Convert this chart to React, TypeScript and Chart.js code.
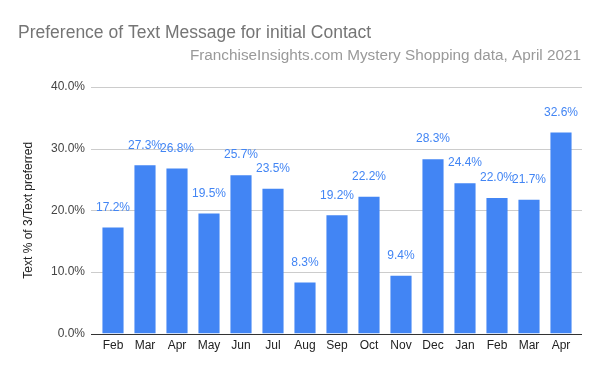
import React, { useEffect, useRef } from "react";
import { Chart, registerables } from "chart.js";

Chart.register(...registerables);

const categories = ["Feb", "Mar", "Apr", "May", "Jun", "Jul", "Aug", "Sep", "Oct", "Nov", "Dec", "Jan", "Feb", "Mar", "Apr"];
const textPreferred = [17.2, 27.3, 26.8, 19.5, 25.7, 23.5, 8.3, 19.2, 22.2, 9.4, 28.3, 24.4, 22.0, 21.7, 32.6];
const yTicks = [0, 10, 20, 30, 40];
const titleText = "Preference of Text Message for initial Contact";
const subtitleText = "FranchiseInsights.com Mystery Shopping data, April 2021";
const yAxisTitle = "Text % of 3/Text preferred";

const FONT = "Arial, 'Liberation Sans', sans-serif";
const BAR = "#4285F4";

const extrasPlugin = {
  id: "extras",
  beforeDatasetsDraw(chart: any) {
    const { ctx, chartArea, scales } = chart;
    const y = scales.y;
    ctx.save();
    ctx.strokeStyle = "#cccccc";
    ctx.lineWidth = 1;
    yTicks.forEach((t) => {
      if (t === 0) return;
      const py = Math.round(y.getPixelForValue(t)) + 0.5;
      ctx.beginPath();
      ctx.moveTo(chartArea.left - 6, py);
      ctx.lineTo(chartArea.right + 5, py);
      ctx.stroke();
    });
    ctx.restore();
  },
  afterDatasetsDraw(chart: any) {
    const { ctx, chartArea, scales } = chart;
    const y = scales.y;
    ctx.save();
    const py = Math.round(y.getPixelForValue(0)) + 0.5;
    ctx.strokeStyle = "#333333";
    ctx.lineWidth = 1;
    ctx.beginPath();
    ctx.moveTo(chartArea.left - 6, py);
    ctx.lineTo(chartArea.right + 5, py);
    ctx.stroke();
    const meta = chart.getDatasetMeta(0);
    ctx.fillStyle = BAR;
    ctx.font = `12px ${FONT}`;
    ctx.textAlign = "center";
    ctx.textBaseline = "middle";
    meta.data.forEach((bar: any, i: number) => {
      ctx.fillText(textPreferred[i].toFixed(1) + "%", bar.x, bar.y - 20);
    });
    ctx.textAlign = "left";
    ctx.fillStyle = "#757575";
    ctx.font = `17.5px ${FONT}`;
    ctx.fillText(titleText, 18, 33);
    ctx.textAlign = "right";
    ctx.fillStyle = "#999999";
    ctx.font = `15.3px ${FONT}`;
    ctx.fillText(subtitleText, 581, 56);
    ctx.restore();
  },
};

export default function App() {
  const ref = useRef<HTMLCanvasElement | null>(null);
  useEffect(() => {
    if (!ref.current) return;
    const chart = new Chart(ref.current, {
      type: "bar",
      data: {
        labels: categories,
        datasets: [
          {
            data: textPreferred,
            backgroundColor: BAR,
            barPercentage: 0.66,
            categoryPercentage: 1,
          },
        ],
      },
      options: {
        animation: false,
        responsive: false,
        layout: { padding: { top: 87, left: 21, right: 23, bottom: 13 } },
        plugins: {
          legend: { display: false },
          tooltip: { enabled: false },
          title: { display: false },
        },
        scales: {
          x: {
            grid: { display: false, drawTicks: false },
            border: { display: false },
            ticks: { color: "#222222", font: { family: FONT, size: 12 }, padding: 5 },
          },
          y: {
            min: 0,
            max: 40,
            afterFit: (s: any) => {
              s.width = 76;
            },
            afterBuildTicks: (s: any) => {
              s.ticks = yTicks.map((v) => ({ value: v }));
            },
            grid: { display: false, drawTicks: false },
            border: { display: false },
            ticks: {
              color: "#444444",
              font: { family: FONT, size: 12 },
              padding: 12,
              callback: (v: any) => Number(v).toFixed(1) + "%",
            },
            title: {
              display: true,
              text: yAxisTitle,
              color: "#222222",
              font: { family: FONT, size: 12 },
              padding: { top: 0, bottom: 0 },
            },
          },
        },
      },
      plugins: [extrasPlugin],
    });
    return () => chart.destroy();
  }, []);
  return (
    <div style={{ position: "fixed", left: 0, top: 0, width: 600, height: 371, background: "#fff" }}>
      <canvas ref={ref} width={600} height={371} style={{ width: 600, height: 371 }} />
    </div>
  );
}
